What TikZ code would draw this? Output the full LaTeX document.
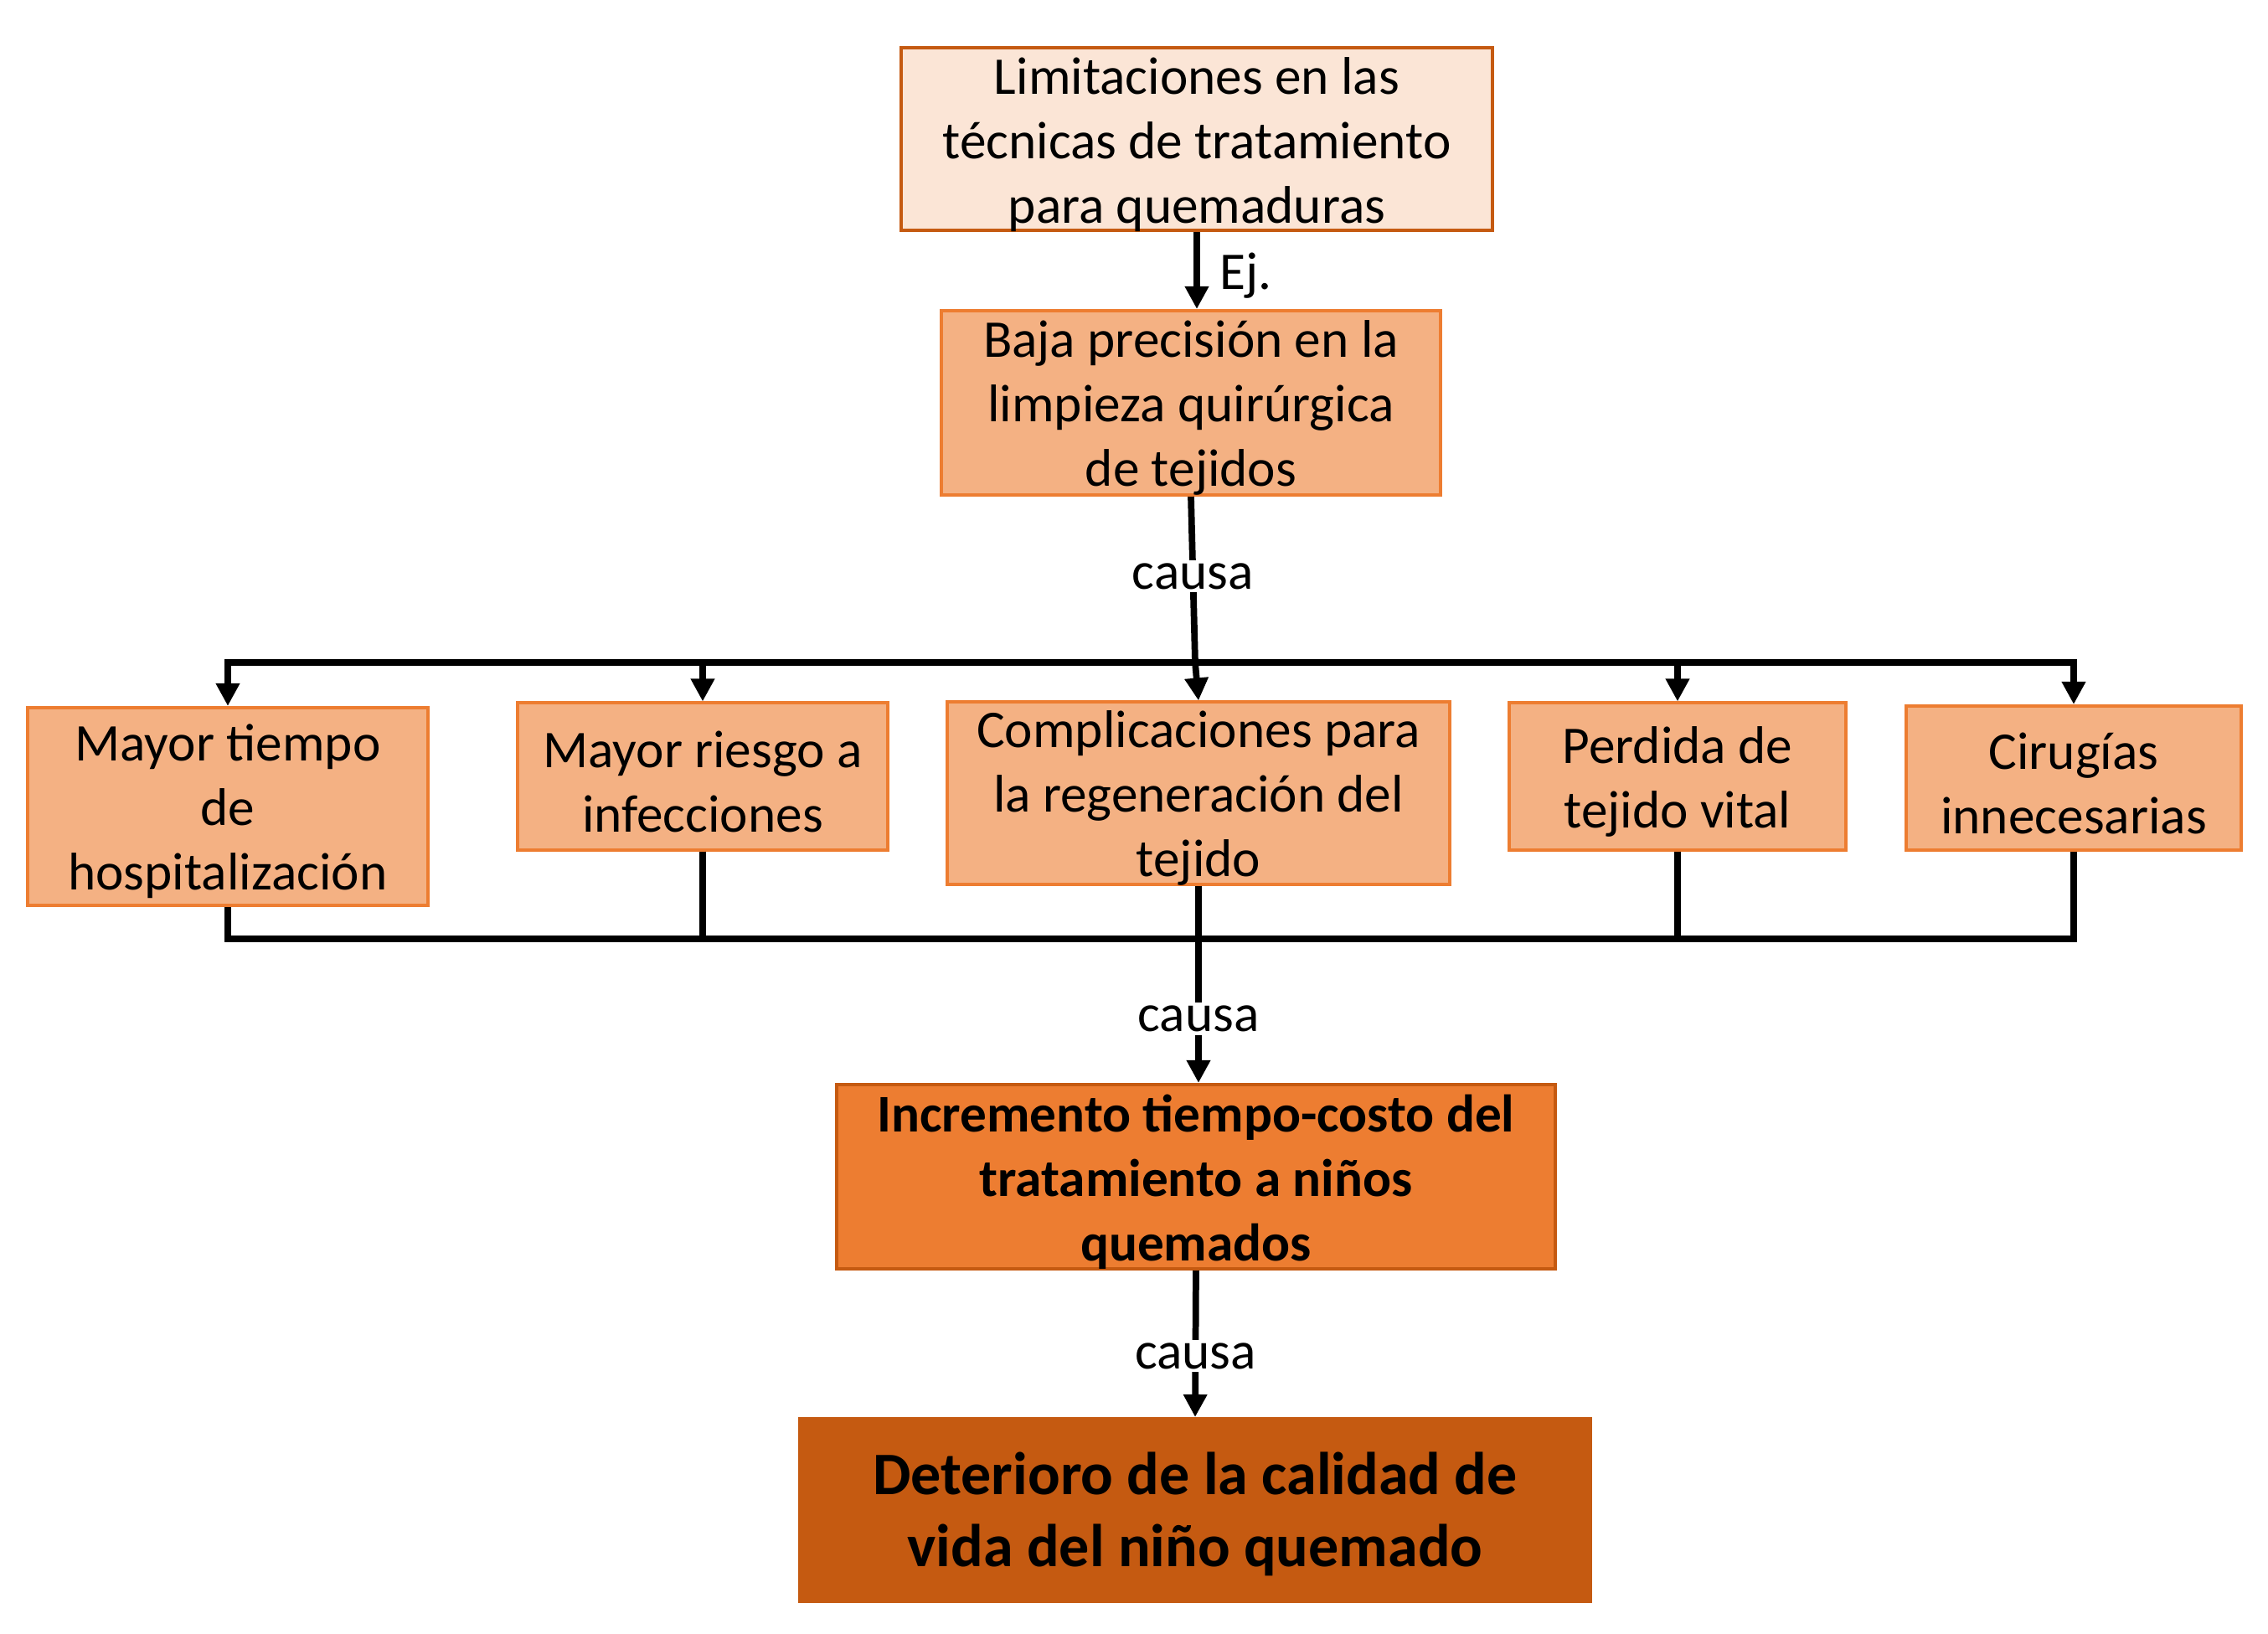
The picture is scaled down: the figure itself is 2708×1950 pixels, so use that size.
\documentclass[tikz,border=0pt]{standalone}
\usepackage{fontspec}
\setmainfont{Carlito}
\usetikzlibrary{arrows.meta}
\definecolor{peachlight}{HTML}{FBE5D6}
\definecolor{peach}{HTML}{F4B183}
\definecolor{orangemid}{HTML}{ED7D31}
\definecolor{orangedark}{HTML}{C55A11}
\tikzset{
  box/.style={draw=orangemid, fill=peach, line width=1.13pt, inner sep=0pt},
  topbox/.style={box, draw=orangedark, fill=peachlight},
  incbox/.style={box, draw=orangedark, fill=orangemid},
  detbox/.style={box, draw=orangedark, fill=orangedark},
  txt/.style={align=center, inner sep=0pt, font=\fontsize{18}{21.9}\selectfont},
  boldtxt/.style={txt, font=\bfseries\fontsize{18}{21.9}\selectfont},
  bigtxt/.style={txt, font=\bfseries\fontsize{20.5}{24.5}\selectfont},
  conn/.style={line width=2.2pt, draw=black},
  arr/.style={conn, -{Triangle[width=0.27cm,length=0.27cm]}},
  lbl/.style={fill=white, inner sep=1pt, yshift=-0.06cm, font=\fontsize{18}{21.9}\selectfont}
}
\begin{document}
\begin{tikzpicture}[x=0.01cm, y=-0.01cm]
\useasboundingbox (0,0) rectangle (2708,1950);
% boxes
\node[topbox, minimum width=7.06cm, minimum height=2.18cm] (lim) at (1429,166) {};
\node[box, minimum width=5.96cm, minimum height=2.20cm] (baja) at (1422,481) {};
\node[box, minimum width=4.78cm, minimum height=2.36cm] (m1) at (272,963) {};
\node[box, minimum width=4.42cm, minimum height=1.75cm] (m2) at (839,927) {};
\node[box, minimum width=5.99cm, minimum height=2.17cm] (m3) at (1431,947) {};
\node[box, minimum width=4.01cm, minimum height=1.75cm] (m4) at (2003,927) {};
\node[box, minimum width=3.99cm, minimum height=1.72cm] (m5) at (2476,929) {};
\node[incbox, minimum width=8.57cm, minimum height=2.20cm] (inc) at (1428,1405) {};
\node[detbox, minimum width=9.43cm, minimum height=2.18cm] (det) at (1427,1803) {};
% texts
\node[txt] (limt) at ([yshift=-0.065cm]lim.center) {Limitaciones en las\\técnicas de tratamiento\\para quemaduras};
\node[txt] (bajat) at ([yshift=-0.06cm]baja.center) {Baja precisión en la\\limpieza quirúrgica\\de tejidos};
\node[txt] (m1t) at ([yshift=-0.06cm]m1.center) {Mayor tiempo\\de\\hospitalización};
\node[txt] (m2t) at ([yshift=-0.06cm]m2.center) {Mayor riesgo a\\infecciones};
\node[txt] (m3t) at ([yshift=-0.06cm]m3.center) {Complicaciones para\\la regeneración del\\tejido};
\node[txt] (m4t) at ([yshift=-0.06cm]m4.center) {Perdida de\\tejido vital};
\node[txt] (m5t) at ([yshift=-0.06cm]m5.center) {Cirugías\\innecesarias};
\node[boldtxt] (inct) at ([yshift=-0.06cm]inc.center) {Incremento tiempo-costo del\\tratamiento a niños\\quemados};
\node[bigtxt] (dett) at ([yshift=-0.05cm]det.center) {Deterioro de la calidad de\\vida del niño quemado};

% top arrow
\draw[arr] (lim.south) -- (lim.south |- baja.north)
  node[midway, right=0.12cm, yshift=-0.06cm, font=\fontsize{18}{21.9}\selectfont] (ej) {Ej.};

% top bus
\coordinate (b1) at (1427,791);
\draw[conn] (baja.south) -- (b1) node[lbl, pos=0.45] (c1) {causa};
\draw[arr] (b1) -| (m1.north);
\draw[arr] (b1) -| (m5.north);
\draw[arr] (m2.north |- b1) -- (m2.north);
\draw[arr] (b1) -- (m3.north);
\draw[arr] (m4.north |- b1) -- (m4.north);

% bottom bus
\coordinate (b2) at (1433,1121);
\draw[conn] (m1.south) |- (b2) -| (m5.south);
\draw[conn] (m2.south) -- (m2.south |- b2);
\draw[conn] (m4.south) -- (m4.south |- b2);
\draw[arr] (m3.south) -- (m3.south |- inc.north) node[lbl, pos=0.65] (c2) {causa};

% bottom arrow
\draw[arr] (inc.south) -- (det.north) node[lbl, pos=0.55] (c3) {causa};
\end{tikzpicture}
\end{document}
